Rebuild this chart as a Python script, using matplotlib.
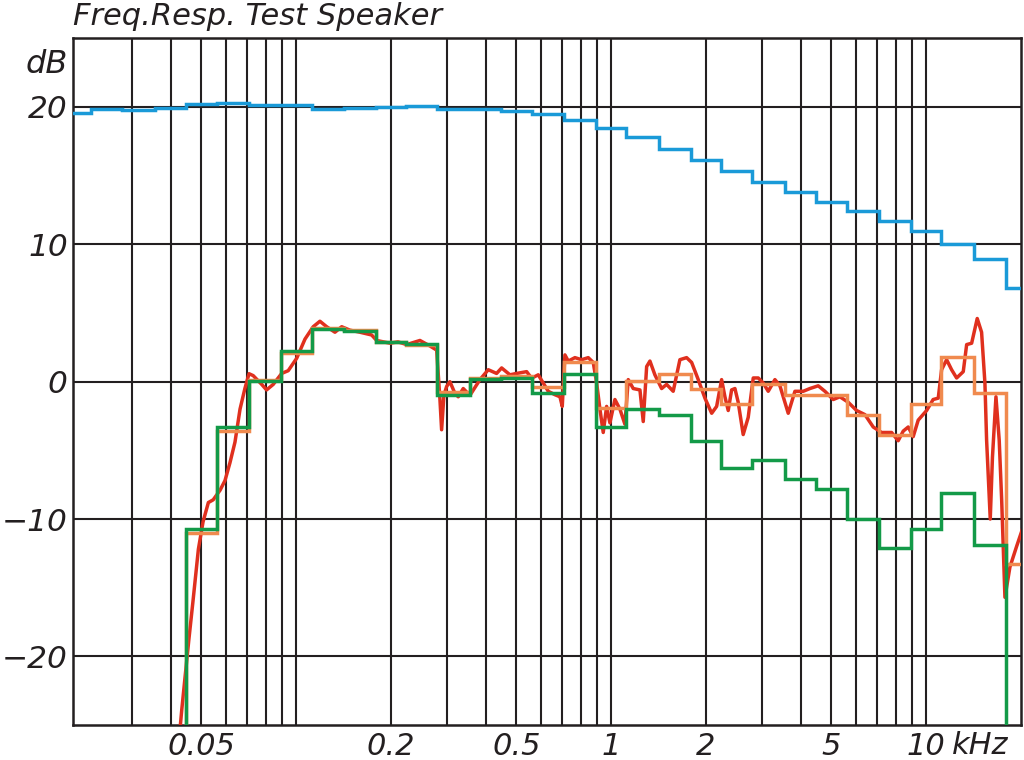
import numpy as np
import matplotlib
matplotlib.use('Agg')
import matplotlib.pyplot as plt

# 1/3-octave band centres, kHz
bands = [0.02, 0.025, 0.0315, 0.04, 0.05, 0.063, 0.08, 0.1, 0.125, 0.16,
         0.2, 0.25, 0.315, 0.4, 0.5, 0.63, 0.8, 1.0, 1.25, 1.6,
         2.0, 2.5, 3.15, 4.0, 5.0, 6.3, 8.0, 10.0, 12.5, 16.0, 20.0]

blue_db = [19.54, 19.85, 19.8, 19.95, 20.2, 20.3, 20.12, 20.12, 19.88, 19.95,
           20.02, 20.05, 19.83, 19.83, 19.71, 19.47, 19.06, 18.46, 17.8, 16.96,
           16.16, 15.36, 14.57, 13.79, 13.07, 12.42, 11.7, 10.94, 10.05, 8.9, 6.8]

orange_db = [-40, -40, -40, -40, -11.0, -3.6, 0.15, 2.1, 3.9, 3.75,
             2.9, 2.7, -0.78, 0.27, 0.44, -0.38, 1.45, -1.95, 0.07, 0.58,
             -0.5, -1.6, -0.2, -0.98, -0.95, -2.45, -3.85, -1.65, 1.8, -0.85, -13.3]

green_db = [-40, -40, -40, -40, -10.7, -3.3, 0.07, 2.2, 3.85, 3.7,
            2.87, 2.75, -0.95, 0.2, 0.25, -0.83, 0.55, -3.3, -2.0, -2.4,
            -4.3, -6.25, -5.7, -7.1, -7.85, -10.0, -12.1, -10.7, -8.1, -11.9, -40]

# fine resolution response (red)
red_f = [0.0421, 0.0433, 0.0456, 0.0470, 0.0489, 0.0506, 0.0526, 0.0545, 0.0573, 0.0594,
         0.0616, 0.0639, 0.0663, 0.0687, 0.0708, 0.0730, 0.0777, 0.0805, 0.0845, 0.0899,
         0.0943, 0.1003, 0.1066, 0.1132, 0.1189, 0.1249, 0.1327, 0.1394, 0.1481, 0.1593,
         0.1735, 0.1800, 0.1984, 0.2103, 0.2241, 0.2470, 0.2657, 0.2791, 0.2859, 0.2894,
         0.2943, 0.3002, 0.3075, 0.3190, 0.3268, 0.3390, 0.3559, 0.3830, 0.4070, 0.4326,
         0.4488, 0.4769, 0.5008, 0.5388, 0.5589, 0.5865, 0.6084, 0.6310, 0.6628, 0.6874,
         0.6991, 0.7129, 0.7304, 0.7669, 0.8054, 0.8453, 0.8768, 0.8989, 0.9207, 0.9432,
         0.9669, 0.9905, 1.0274, 1.0656, 1.1053, 1.1324, 1.1746, 1.2335, 1.2637, 1.2955,
         1.327, 1.376, 1.4454, 1.4993, 1.573, 1.652, 1.735, 1.800, 1.889, 1.984,
         2.084, 2.161, 2.241, 2.296, 2.352, 2.411, 2.470, 2.530, 2.624, 2.722,
         2.824, 2.929, 3.038, 3.151, 3.309, 3.432, 3.647, 3.830, 4.070, 4.273,
         4.541, 4.769, 5.068, 5.321, 5.654, 6.012, 6.390, 6.788, 7.218, 7.765,
         8.148, 8.453, 8.768, 9.093, 9.432, 10.03, 10.52, 10.92, 11.19, 11.61,
         12.04, 12.49, 13.11, 13.44, 13.94, 14.52, 14.99, 15.36, 15.55, 15.97,
         16.23, 16.65, 17.05, 17.36, 17.78, 18.44, 19.36, 20.23]
red_db = [-27.0, -23.9, -18.8, -16.0, -12.2, -10.2, -8.8, -8.6, -7.9, -7.2,
          -5.9, -4.4, -2.0, -0.5, 0.58, 0.44, -0.2, -0.6, -0.2, 0.6,
          0.8, 1.7, 3.1, 4.0, 4.4, 4.0, 3.6, 4.0, 3.75, 3.6,
          3.4, 3.0, 2.8, 2.9, 2.7, 3.0, 2.6, 2.3, -1.3, -3.5,
          -1.0, -0.35, 0.0, -0.85, -1.1, -0.5, -1.0, 0.15, 0.87, 0.6,
          1.0, 0.5, 0.6, 0.73, 0.25, 0.5, -0.1, -0.7, -0.95, -1.1,
          -1.8, 1.95, 1.5, 1.75, 1.6, 1.75, 1.4, -0.1, -2.0, -3.7,
          -1.8, -3.0, -1.3, -2.0, -3.1, 0.15, -0.5, -0.6, -2.9, 1.1,
          1.5, 0.5, -0.5, -0.2, -0.7, 1.6, 1.75, 1.4, 0.15, -1.2,
          -2.3, -1.8, 0.15, -1.1, -2.1, -0.6, -0.5, -1.5, -3.85, -2.6,
          0.27, 0.27, -0.1, -0.7, 0.15, -0.3, -2.3, -0.7, -0.7, -0.5,
          -0.3, -0.7, -1.3, -1.1, -1.5, -2.1, -2.4, -3.3, -3.7, -3.7,
          -4.3, -3.6, -3.3, -4.0, -2.8, -2.1, -1.3, -1.2, 0.87, 1.6,
          0.87, 0.27, 0.73, 2.7, 2.8, 4.6, 3.6, -0.1, -4.25, -10.0,
          -5.5, -1.1, -4.25, -8.6, -15.7, -13.5, -12.0, -10.7]

xgrid = [0.03, 0.04, 0.05, 0.06, 0.07, 0.08, 0.09, 0.1, 0.2, 0.3, 0.4, 0.5,
         0.6, 0.7, 0.8, 0.9, 1, 2, 3, 4, 5, 6, 7, 8, 9, 10]
xticks = [0.05, 0.2, 0.5, 1, 2, 5, 10]
xlabels = ['0.05', '0.2', '0.5', '1', '2', '5', '10']
yticks = [-20, -10, 0, 10, 20]

# band edges from neighbouring centres
b = np.array(bands)
mid = np.sqrt(b[:-1] * b[1:])
edges = np.concatenate([[b[0] ** 2 / mid[0]], mid, [b[-1] ** 2 / mid[-1]]])

plt.rcParams['font.family'] = ['DejaVu Sans']
fig = plt.figure(figsize=(10.24, 7.6), dpi=100)
ax = fig.add_axes([0.0716, 0.046, 0.9255, 0.9036])

ink = '#231f20'
for x in xgrid:
    ax.axvline(x, color=ink, lw=1.5, zorder=1)
for y in yticks:
    ax.axhline(y, color=ink, lw=1.5, zorder=1)

ax.stairs(blue_db, edges, color='#1a9ad8', lw=2.5, baseline=None, zorder=3)
ax.plot(red_f, red_db, color='#e0301e', lw=2.5, zorder=4)
ax.stairs(orange_db, edges, color='#f08a4e', lw=2.5, baseline=None, zorder=5)
ax.stairs(green_db, edges, color='#139a48', lw=2.5, baseline=None, zorder=6)

ax.set_xscale('log')
ax.set_xlim(0.0196, 20)
ax.set_ylim(-25, 25)
ax.set_xticks(xticks)
ax.set_xticklabels(xlabels)
ax.set_xticks([], minor=True)
ax.set_yticks(yticks)
ax.tick_params(length=0, colors=ink)
ax.tick_params(axis='y', labelsize=22.5, pad=4)
ax.tick_params(axis='x', labelsize=22, pad=5)
for lab in ax.get_xticklabels() + ax.get_yticklabels():
    lab.set_fontstyle('oblique')
for s in ax.spines.values():
    s.set_linewidth(1.8)
    s.set_color(ink)

ax.text(12.1, -0.009, 'kHz', transform=ax.get_xaxis_transform(), ha='left', va='top',
        fontsize=22, fontstyle='oblique', color=ink)
ax.text(-0.006, 0.962, 'dB', transform=ax.transAxes, ha='right', va='center',
        fontsize=23, fontstyle='oblique', color=ink)
fig.text(0.071, 1 - 25 / 760, 'Freq.Resp. Test Speaker', ha='left', va='baseline',
         fontsize=22, fontstyle='oblique', color=ink)

fig.savefig('out.png', dpi=100)
